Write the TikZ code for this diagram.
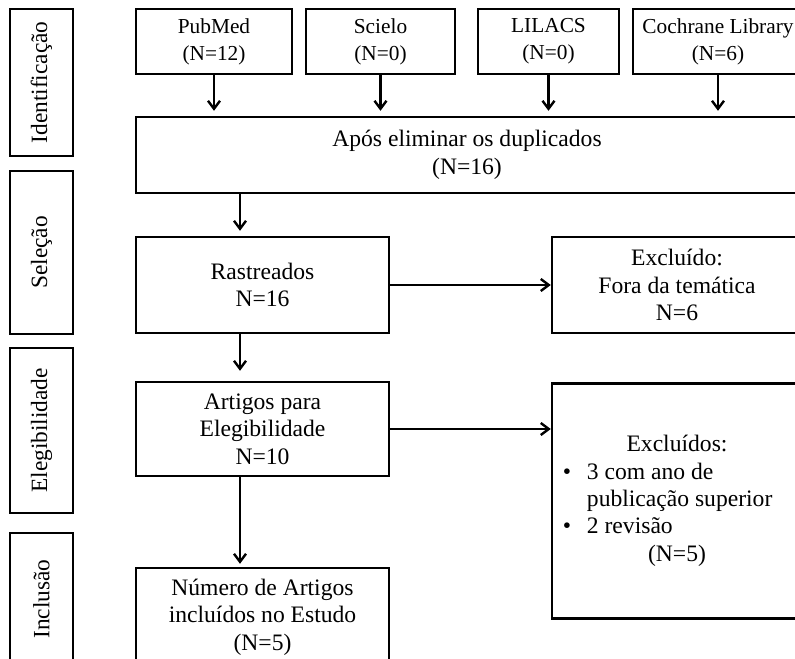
\documentclass[tikz,border=0pt]{standalone}
\usepackage{fontspec}
\setmainfont{Liberation Serif}
\usetikzlibrary{arrows.meta}
\newdimen\pxu \pxu=0.75pt

\tikzstyle{box} = [draw, line width=1.8pt, rectangle, inner sep=0pt, align=center, font=\fontsize{17.7pt}{20.6pt}\selectfont]
\tikzstyle{srcbox} = [box, minimum height=65\pxu, font=\fontsize{16pt}{20.3pt}\selectfont]
\tikzstyle{phase} = [box, rotate=90, minimum height=63\pxu, font=\fontsize{17.5pt}{21pt}\selectfont]
\tikzstyle{arrow} = [line width=1.8pt, -{Straight Barb[length=6pt,width=9pt]}]

\begin{document}
\begin{tikzpicture}[x=0.75pt, y=-0.75pt]
	\path[use as bounding box, clip] (0,0) rectangle (795,659);
	% phases on the left
	\node[phase, minimum width=147\pxu] (ident) at (41.5,82.5) {Identificação};
	\node[phase, minimum width=163\pxu] (selec) at (41.5,252.5) {Seleção};
	\node[phase, minimum width=165\pxu] (elegi) at (41.5,430.5) {Elegibilidade};
	\node[phase, minimum width=132\pxu] (inclu) at (41.5,599) {Inclusão};
	% databases
	\node[srcbox, minimum width=156\pxu] (pubmed) at (214,41.5) {PubMed\\(N=12)};
	\node[srcbox, minimum width=149\pxu] (scielo) at (380.5,41.5) {Scielo\\(N=0)};
	\node[srcbox, minimum width=141\pxu] (lilacs) at (548.5,41.5) {LILACS\\(N=0)};
	\node[srcbox, minimum width=170\pxu] (cochrane) at (718,41.5) {Cochrane Library\\(N=6)};
	% main column
	\node[box, minimum width=662\pxu, minimum height=76\pxu] (apos) at (467,155) {Após eliminar os duplicados\\(N=16)};
	\node[box, minimum width=253\pxu, minimum height=96\pxu] (rast) at (262.5,285) {Rastreados\\N=16};
	\node[box, minimum width=253\pxu, minimum height=94\pxu] (artigos) at (262.5,429) {Artigos para\\Elegibilidade\\N=10};
	\node[box, minimum width=253\pxu, minimum height=98\pxu] (numero) at (262.5,617) {Número de Artigos\\incluídos no Estudo\\(N=5)};
	% exclusions
	\node[box, minimum width=250\pxu, minimum height=96\pxu] (excl) at (677,285) {Excluído:\\Fora da temática\\N=6};
	\node[box, minimum width=250\pxu, minimum height=235\pxu] (exclb) at (677,501) {%
		\begin{tabular}{@{}p{18pt}@{}l@{\hspace{14pt}}}
		\multicolumn{2}{@{}c@{}}{Excluídos:}\\
		\textbullet & 3 com ano de\\
		 & publicação superior\\
		\textbullet & 2 revisão\\
		\multicolumn{2}{@{}c@{}}{(N=5)}
		\end{tabular}};
	\coordinate (mainx) at (240,0);
	% arrows
	\foreach \src in {pubmed,scielo,lilacs,cochrane} {
		\draw[arrow, shorten >=5\pxu] (\src.south) -- (\src.south |- apos.north);
	}
	\draw[arrow, shorten >=5\pxu] (apos.south -| mainx) -- (rast.north -| mainx);
	\draw[arrow, shorten >=10\pxu] (rast.south -| mainx) -- (artigos.north -| mainx);
	\draw[arrow, shorten >=3\pxu] (artigos.south -| mainx) -- (numero.north -| mainx);
	\draw[arrow] (rast.east) -- (excl.west);
	\draw[arrow] (artigos.east) -- (artigos.east -| exclb.west);
\end{tikzpicture}
\end{document}
